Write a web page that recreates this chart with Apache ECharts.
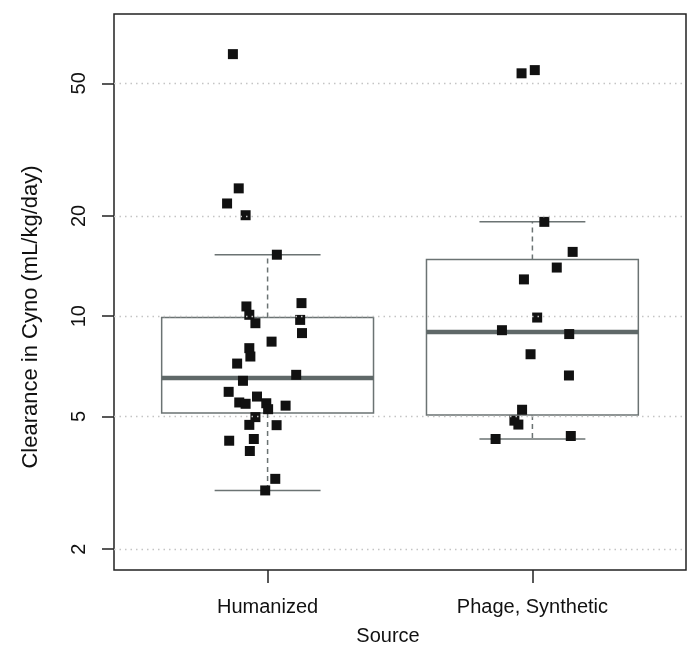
<!DOCTYPE html>
<html><head><meta charset="utf-8">
<script src="https://cdn.jsdelivr.net/npm/echarts@6/dist/echarts.min.js"></script>
<style>html,body{margin:0;padding:0;background:#fff}#chart{width:700px;height:659px}</style>
</head><body><div id="chart"></div>
<script>
const categories = ['Humanized', 'Phage, Synthetic'];
const categoryPositions = [1, 2];
const yTickValues = [2, 5, 10, 20, 50];
const humanizedValues = [61.2, 24.2, 21.8, 20.1, 15.3, 10.95, 10.7, 10.1, 9.75, 9.53, 8.90, 8.39, 8.02, 7.57, 7.21, 6.67, 6.40, 5.93, 5.74, 5.51, 5.46, 5.48, 5.26, 5.39, 4.98, 4.72, 4.71, 4.23, 4.28, 3.94, 3.25, 3.00];
const humanizedJitter = [0.869, 0.891, 0.847, 0.917, 1.035, 1.128, 0.920, 0.931, 1.123, 0.954, 1.130, 1.015, 0.931, 0.935, 0.885, 1.108, 0.907, 0.853, 0.960, 0.893, 0.917, 0.995, 1.002, 1.068, 0.954, 0.931, 1.034, 0.855, 0.948, 0.933, 1.029, 0.991];
const phageValues = [53.6, 54.8, 19.2, 15.6, 14.0, 12.9, 9.91, 9.08, 8.84, 7.69, 6.64, 5.24, 4.86, 4.73, 4.28, 4.37];
const phageJitter = [1.959, 2.009, 2.045, 2.152, 2.092, 1.968, 2.018, 1.885, 2.139, 1.993, 2.138, 1.961, 1.932, 1.947, 1.861, 2.145];
// box stats: [lower whisker, lower hinge, median, upper hinge, upper whisker]
const humanizedBox = [3.00, 5.12, 6.53, 9.92, 15.3];
const phageBox = [4.28, 5.05, 8.96, 14.8, 19.2];

const L10 = Math.log10;
const FONT = "'Liberation Sans', Arial, Helvetica, sans-serif";
const boxData = [
  [categoryPositions[0]].concat(humanizedBox.map(L10)),
  [categoryPositions[1]].concat(phageBox.map(L10))
];
const toPts = (xs, vs) => vs.map((v, i) => [xs[i], L10(v)]);

function renderBox(params, api) {
  const x = api.value(0);
  const v = [api.value(1), api.value(2), api.value(3), api.value(4), api.value(5)];
  const hw = 0.4, cw = 0.2;
  const p = (xx, yy) => api.coord([xx, yy]);
  const gray = '#6b7373';
  const line = (a, b, st) => ({type: 'line', shape: {x1: a[0], y1: a[1], x2: b[0], y2: b[1]}, style: st});
  const dashed = {stroke: gray, lineWidth: 1.5, lineDash: [5, 4]};
  const solid = {stroke: gray, lineWidth: 1.5};
  const q1L = p(x - hw, v[1]), q3R = p(x + hw, v[3]);
  return {type: 'group', children: [
    line(p(x, v[3]), p(x, v[4]), dashed),
    line(p(x, v[1]), p(x, v[0]), dashed),
    line(p(x - cw, v[4]), p(x + cw, v[4]), solid),
    line(p(x - cw, v[0]), p(x + cw, v[0]), solid),
    {type: 'rect', shape: {x: q1L[0], y: q3R[1], width: q3R[0] - q1L[0], height: q1L[1] - q3R[1]}, style: {fill: 'none', stroke: gray, lineWidth: 1.5}},
    line(p(x - hw, v[2]), p(x + hw, v[2]), {stroke: '#5f6868', lineWidth: 4.5})
  ]};
}

const chart = echarts.init(document.getElementById('chart'), null, {renderer: 'canvas'});
chart.setOption({
  animation: false,
  backgroundColor: '#fff',
  grid: {left: 114, right: 14, top: 14, bottom: 89, show: true, borderColor: '#222', borderWidth: 1.5, backgroundColor: 'transparent'},
  xAxis: {
    type: 'value', min: 0.42, max: 2.58,
    name: 'Source', nameLocation: 'middle', nameGap: 56,
    nameTextStyle: {fontSize: 20, color: '#111', fontFamily: FONT, padding: [0, 24, 0, 0]},
    axisLine: {show: false},
    splitLine: {show: false},
    axisTick: {show: true, customValues: categoryPositions, length: 13, lineStyle: {color: '#222', width: 1.5}},
    axisLabel: {customValues: categoryPositions, margin: 27, fontSize: 20, color: '#111', fontFamily: FONT,
      formatter: v => categories[categoryPositions.indexOf(Math.round(v))]}
  },
  yAxis: {
    type: 'value', min: L10(1.731), max: L10(80.76),
    name: 'Clearance in Cyno (mL/kg/day)', nameLocation: 'middle', nameGap: 72,
    nameTextStyle: {fontSize: 22, color: '#111', fontFamily: FONT, padding: [0, 50, 0, 0]},
    axisLine: {show: false},
    splitLine: {show: false},
    axisTick: {show: true, customValues: yTickValues.map(L10), length: 12, lineStyle: {color: '#222', width: 1.5}},
    axisLabel: {customValues: yTickValues.map(L10), rotate: 90, margin: 25, fontSize: 20, color: '#111', fontFamily: FONT,
      formatter: v => String(Math.round(Math.pow(10, v)))}
  },
  series: [
    {
      type: 'custom', z: 1, renderItem: renderBox, data: boxData,
      encode: {x: 0, y: [1, 2, 3, 4, 5]},
      markLine: {silent: true, symbol: 'none', label: {show: false}, animation: false,
        lineStyle: {color: '#c4c4c4', type: [1.5, 4], width: 1.3},
        data: yTickValues.map(v => ({yAxis: L10(v)}))}
    },
    {type: 'scatter', z: 3, symbol: 'rect', symbolSize: 10, itemStyle: {color: '#111', opacity: 1}, data: toPts(humanizedJitter, humanizedValues)},
    {type: 'scatter', z: 3, symbol: 'rect', symbolSize: 10, itemStyle: {color: '#111', opacity: 1}, data: toPts(phageJitter, phageValues)}
  ]
});
</script></body></html>
